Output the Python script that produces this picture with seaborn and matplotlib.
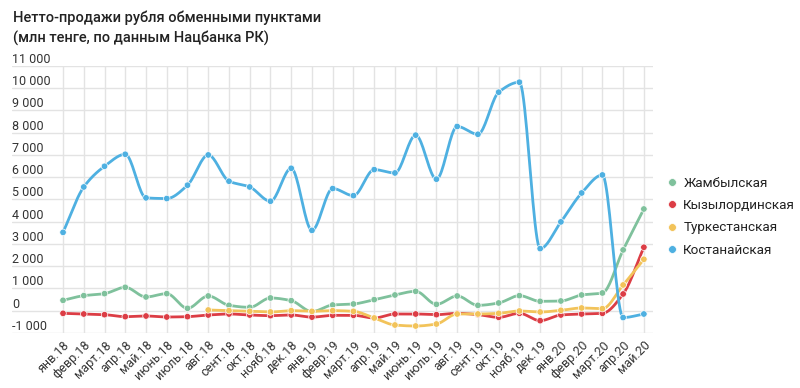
import numpy as np
import pandas as pd
import matplotlib
matplotlib.use("Agg")
import matplotlib.pyplot as plt
import seaborn as sns

# data (млн тенге)
months = ['янв.18', 'февр.18', 'март.18', 'апр.18', 'май.18', 'июнь.18', 'июль.18',
          'авг.18', 'сент.18', 'окт.18', 'нояб.18', 'дек.18',
          'янв.19', 'февр.19', 'март.19', 'апр.19', 'май.19', 'июнь.19', 'июль.19',
          'авг.19', 'сент.19', 'окт.19', 'нояб.19', 'дек.19',
          'янв.20', 'февр.20', 'март.20', 'апр.20', 'май.20']

zhambyl = [465, 675, 765, 1050, 615, 765, 105, 660, 240, 150, 570, 450,
           -40, 255, 300, 495, 705, 870, 285, 660, 240, 345, 675, 420,
           435, 705, 795, 2730, 4570]
kyzylorda = [-120, -150, -180, -270, -240, -285, -270, -195, -150, -195, -225, -195,
             -290, -210, -210, -330, -150, -150, -180, -120, -180, -300, -120, -450,
             -195, -150, -120, 750, 2850]
turkestan = [np.nan] * 7 + [30, 0, -30, -60, 0,
             -30, 0, -30, -330, -645, -690, -600, -150, -150, -120, -15, -60,
             15, 120, 90, 1155, 2310]
kostanay = [3520, 5560, 6490, 7030, 5070, 5040, 5640, 7000, 5820, 5560, 4920, 6400,
            3610, 5490, 5170, 6340, 6190, 7890, 5910, 8280, 7930, 9820, 10270, 2790,
            3990, 5290, 6100, -310, -150]

series = {
    'Жамбылская': zhambyl,
    'Кызылординская': kyzylorda,
    'Туркестанская': turkestan,
    'Костанайская': kostanay,
}
colors = {
    'Жамбылская': '#7fc19c',
    'Кызылординская': '#dc3d45',
    'Туркестанская': '#f2c35a',
    'Костанайская': '#4eb0e1',
}

yticks = list(range(-1000, 11001, 1000))
ytick_labels = [f"{v:,}".replace(",", " ") for v in yticks]


def monotone_curve(x, y, n=20):
    # monotone cubic (Fritsch-Carlson) for the smooth line look
    x = np.asarray(x, float)
    y = np.asarray(y, float)
    h = np.diff(x)
    d = np.diff(y) / h
    m = np.zeros_like(y)
    m[0], m[-1] = d[0], d[-1]
    for i in range(1, len(y) - 1):
        if d[i - 1] * d[i] <= 0:
            m[i] = 0
        else:
            w1 = 2 * h[i] + h[i - 1]
            w2 = h[i] + 2 * h[i - 1]
            m[i] = (w1 + w2) / (w1 / d[i - 1] + w2 / d[i])
    xs, ys = [], []
    for i in range(len(x) - 1):
        t = np.linspace(0, 1, n, endpoint=False)
        h00 = 2 * t**3 - 3 * t**2 + 1
        h10 = t**3 - 2 * t**2 + t
        h01 = -2 * t**3 + 3 * t**2
        h11 = t**3 - t**2
        xs.append(x[i] + t * h[i])
        ys.append(h00 * y[i] + h10 * h[i] * m[i] + h01 * y[i + 1] + h11 * h[i] * m[i + 1])
    xs.append([x[-1]])
    ys.append([y[-1]])
    return np.concatenate(xs), np.concatenate(ys)


rows = []
smooth_rows = []
for name, vals in series.items():
    for i, v in enumerate(vals):
        if not np.isnan(v):
            rows.append({'month': i, 'value': v, 'region': name})
    idx = [i for i, v in enumerate(vals) if not np.isnan(v)]
    sx, sy = monotone_curve(idx, [vals[i] for i in idx])
    for a, b in zip(sx, sy):
        smooth_rows.append({'month': a, 'value': b, 'region': name})
df = pd.DataFrame(rows)
df_smooth = pd.DataFrame(smooth_rows)

sns.set_theme(style="white")
plt.rcParams['font.family'] = ['Roboto', 'DejaVu Sans']

fig = plt.figure(figsize=(8, 3.88), dpi=100)
ax = fig.add_axes([0.015, 0.142, 0.801, 0.688])

sns.lineplot(data=df_smooth, x='month', y='value', hue='region', palette=colors,
             linewidth=2.0, legend=False, sort=False, estimator=None, ax=ax, zorder=3)
sns.scatterplot(data=df, x='month', y='value', hue='region', palette=colors,
                s=22, edgecolor='white', linewidth=0.5, ax=ax, zorder=4)

ax.set_xlim(-2.46, 28.43)
ax.set_ylim(-1000, 11000)
ax.set_xticks(range(len(months)))
ax.set_xticklabels(months, rotation=45, ha='right', rotation_mode='anchor',
                   fontsize=9, color='#333333')
ax.set_yticks(yticks)
ax.set_yticklabels(ytick_labels, fontsize=9, color='#333333')
for lbl in ax.get_yticklabels():
    lbl.set_ha('left')
    lbl.set_va('bottom')
ax.tick_params(axis='y', length=0, pad=0)
ax.tick_params(axis='x', length=0, pad=4)
ax.grid(True, color='#e3e3e3', linewidth=1)
ax.set_axisbelow(True)
for s in ax.spines.values():
    s.set_visible(False)
ax.set_xlabel('')
ax.set_ylabel('')

handles, labels = ax.get_legend_handles_labels()
ax.legend(handles, labels, loc='upper left', bbox_to_anchor=(0.818, 0.575),
          bbox_transform=fig.transFigure, frameon=False, fontsize=9.7,
          handlelength=0.8, handletextpad=0.45, labelspacing=0.68, markerscale=1.2,
          labelcolor='#222222')

fig.text(0.016, 0.955, 'Нетто-продажи рубля обменными пунктами', fontsize=10.5,
         weight='medium', color='#222222', va='center')
fig.text(0.016, 0.9, '(млн тенге, по данным Нацбанка РК)', fontsize=10.5,
         weight='medium', color='#222222', va='center')

fig.savefig('out.png', dpi=100)
